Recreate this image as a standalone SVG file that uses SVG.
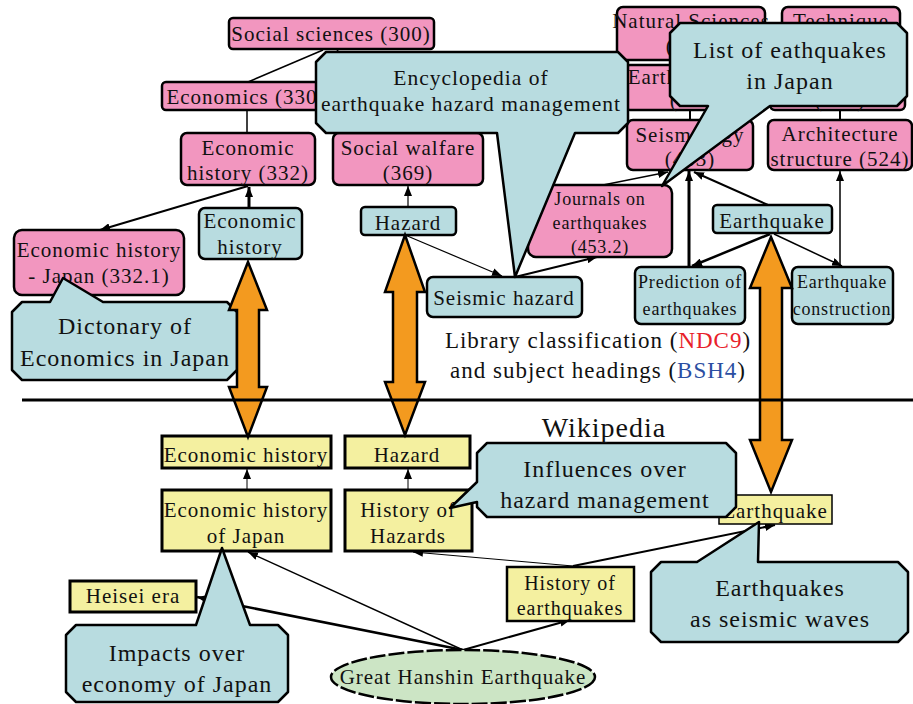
<svg xmlns="http://www.w3.org/2000/svg" width="913" height="704" viewBox="0 0 913 704">
<style>
.t{font-family:"Liberation Serif","Times New Roman",serif;fill:#111;text-anchor:middle}
.n{font-size:21px;letter-spacing:1px}
.s{font-size:18px;letter-spacing:0.8px}
.c{font-size:24px;letter-spacing:1px}
.pink{fill:#F296BF;stroke:#000;stroke-width:2.5}
.blue{fill:#B8DCE0;stroke:#000;stroke-width:2.5}
.yel{fill:#F4F0A0;stroke:#000;stroke-width:3}
.yelt{fill:#F4F0A0;stroke:#000;stroke-width:1.5}
.call{fill:#B8DCE0;stroke:#000;stroke-width:2.5;stroke-linejoin:round}
.oa{fill:#F39A1F;stroke:#000;stroke-width:2.5;stroke-linejoin:miter}
.l{stroke:#000;fill:none}
</style>
<defs>
<marker id="ah" viewBox="0 0 10 8" refX="10" refY="4" markerWidth="10" markerHeight="8" markerUnits="userSpaceOnUse" orient="auto"><path d="M0,0 L10,4 L0,8 z" fill="#000"/></marker>
</defs>
<rect width="913" height="704" fill="#fff"/>

<g id="connectors">
<line class="l" x1="323" y1="50" x2="248" y2="82" stroke-width="1.5"/>
<line class="l" x1="337" y1="50" x2="408" y2="133" stroke-width="1.5"/>
<line class="l" x1="247" y1="110" x2="247" y2="133" stroke-width="1.5"/>
<line class="l" x1="248" y1="186" x2="100" y2="230" stroke-width="2" marker-end="url(#ah)"/>
<line class="l" x1="249" y1="208" x2="249" y2="187" stroke-width="3" marker-end="url(#ah)"/>
<line class="l" x1="408" y1="207" x2="408" y2="186" stroke-width="1.2" marker-end="url(#ah)"/>
<line class="l" x1="405" y1="235" x2="502" y2="276" stroke-width="1.2" marker-end="url(#ah)"/>
<line class="l" x1="515" y1="277" x2="597" y2="257" stroke-width="2" marker-end="url(#ah)"/>
<line class="l" x1="603" y1="185" x2="668" y2="172" stroke-width="1.5" marker-end="url(#ah)"/>
<line class="l" x1="689" y1="267" x2="689" y2="171" stroke-width="3" marker-end="url(#ah)"/>
<line class="l" x1="768" y1="205" x2="694" y2="172" stroke-width="2" marker-end="url(#ah)"/>
<line class="l" x1="770" y1="234" x2="692" y2="266" stroke-width="2.5" marker-end="url(#ah)"/>
<line class="l" x1="774" y1="234" x2="842" y2="266" stroke-width="1.5" marker-end="url(#ah)"/>
<line class="l" x1="840" y1="267" x2="840" y2="171" stroke-width="1.5" marker-end="url(#ah)"/>
<line class="l" x1="690" y1="110" x2="690" y2="120" stroke-width="2"/>
<line class="l" x1="840" y1="110" x2="840" y2="120" stroke-width="2"/>
<line class="l" x1="691" y1="60" x2="691" y2="65" stroke-width="2"/>
<line class="l" x1="841" y1="60" x2="841" y2="65" stroke-width="2"/>
<line class="l" x1="247" y1="490" x2="247" y2="469" stroke-width="1" marker-end="url(#ah)"/>
<line class="l" x1="408" y1="490" x2="408" y2="469" stroke-width="1" marker-end="url(#ah)"/>
<line class="l" x1="573" y1="566" x2="413" y2="552" stroke-width="1" marker-end="url(#ah)"/>
<line class="l" x1="573" y1="566" x2="775" y2="525" stroke-width="2" marker-end="url(#ah)"/>
<line class="l" x1="463" y1="650" x2="248" y2="552" stroke-width="1.5" marker-end="url(#ah)"/>
<line class="l" x1="463" y1="650" x2="197" y2="597" stroke-width="2.5" marker-end="url(#ah)"/>
<line class="l" x1="463" y1="650" x2="570" y2="620" stroke-width="2" marker-end="url(#ah)"/>
</g>

<g id="ndc-social-sciences"><rect class="pink" x="229" y="18" width="205" height="31" rx="4"/><text class="t n" x="331" y="41">Social sciences (300)</text></g>
<g id="ndc-economics"><rect class="pink" x="162" y="82" width="168" height="28" rx="4"/><text class="t n" x="246" y="104">Economics (330)</text></g>
<g id="ndc-economic-history"><rect class="pink" x="181" y="133" width="134" height="52" rx="6"/><text class="t n" x="248" y="155">Economic</text><text class="t n" x="248" y="180">history (332)</text></g>
<g id="ndc-social-walfare"><rect class="pink" x="333" y="133" width="150" height="52" rx="6"/><text class="t n" x="408" y="155">Social walfare</text><text class="t n" x="408" y="180">(369)</text></g>
<g id="ndc-natural-sciences"><rect class="pink" x="617" y="7" width="148" height="53" rx="6"/><text class="t n" x="691" y="28">Natural Sciences</text><text class="t n" x="691" y="53">(400)</text></g>
<g id="ndc-technique"><rect class="pink" x="782" y="7" width="118" height="53" rx="6"/><text class="t n" x="841" y="28">Technique</text><text class="t n" x="841" y="53">(500)</text></g>
<g id="ndc-earth-sciences"><rect class="pink" x="625" y="65" width="140" height="45" rx="5"/><text class="t n" x="695" y="84">Earth sciences</text><text class="t n" x="695" y="107">(450)</text></g>
<g id="ndc-architecture"><rect class="pink" x="770" y="65" width="135" height="45" rx="5"/><text class="t n" x="840" y="84">Architecture</text><text class="t n" x="840" y="107">(520)</text></g>
<g id="ndc-seismology"><rect class="pink" x="627" y="120" width="126" height="50" rx="6"/><text class="t n" x="690" y="142">Seismology</text><text class="t n" x="690" y="166">(453)</text></g>
<g id="ndc-architecture-structure"><rect class="pink" x="768" y="120" width="144" height="50" rx="6"/><text class="t n" x="840" y="141">Architecture</text><text class="t n" x="840" y="166">structure (524)</text></g>
<g id="ndc-journals"><rect class="pink" x="528" y="185" width="144" height="72" rx="8"/><text class="t s" x="600" y="205">Journals on</text><text class="t s" x="600" y="229">earthquakes</text><text class="t s" x="600" y="253">(453.2)</text></g>
<g id="ndc-economic-history-japan"><rect class="pink" x="14" y="230" width="170" height="65" rx="8"/><text class="t n" x="99" y="257">Economic history</text><text class="t n" x="99" y="283">- Japan (332.1)</text></g>

<g id="bsh-economic-history"><rect class="blue" x="199" y="208" width="103" height="51" rx="6"/><text class="t n" x="250" y="228">Economic</text><text class="t n" x="250" y="254">history</text></g>
<g id="bsh-hazard"><rect class="blue" x="361" y="207" width="95" height="28" rx="4"/><text class="t n" x="408" y="230">Hazard</text></g>
<g id="bsh-seismic-hazard"><rect class="blue" x="427" y="277" width="155" height="40" rx="6"/><text class="t n" x="504" y="305">Seismic hazard</text></g>
<g id="bsh-earthquake"><rect class="blue" x="713" y="205" width="119" height="28" rx="4"/><text class="t n" x="772" y="228">Earthquake</text></g>
<g id="bsh-prediction"><rect class="blue" x="635" y="267" width="110" height="57" rx="6"/><text class="t s" x="690" y="288">Prediction of</text><text class="t s" x="690" y="315">earthquakes</text></g>
<g id="bsh-earthquake-construction"><rect class="blue" x="792" y="267" width="101" height="57" rx="6"/><text class="t s" x="842" y="288">Earthquake</text><text class="t s" x="842" y="315">construction</text></g>

<g id="wp-economic-history"><rect class="yel" x="162" y="436" width="169" height="32"/><text class="t n" x="246" y="462">Economic history</text></g>
<g id="wp-hazard"><rect class="yel" x="345" y="436" width="125" height="32"/><text class="t n" x="407" y="462">Hazard</text></g>
<g id="wp-economic-history-japan"><rect class="yel" x="162" y="490" width="169" height="61"/><text class="t n" x="246" y="517">Economic history</text><text class="t n" x="246" y="543">of Japan</text></g>
<g id="wp-history-hazards"><rect class="yel" x="345" y="490" width="127" height="61"/><text class="t n" x="408" y="517">History of</text><text class="t n" x="408" y="543">Hazards</text></g>
<g id="wp-heisei-era"><rect class="yel" x="70" y="581" width="126" height="31"/><text class="t n" x="133" y="603">Heisei era</text></g>
<g id="wp-history-earthquakes"><rect class="yel" x="507" y="567" width="127" height="54" style="stroke-width:2.5"/><text class="t n" x="570" y="590" style="font-size:20px">History of</text><text class="t n" x="570" y="615" style="font-size:20px">earthquakes</text></g>
<g id="wp-earthquake"><rect class="yelt" x="719" y="495" width="113" height="29"/><text class="t n" x="775" y="518">Earthquake</text></g>
<g id="wp-great-hanshin"><ellipse cx="463" cy="677" rx="132" ry="27" fill="#CCE5C5" stroke="#000" stroke-width="2.5" stroke-dasharray="16 3"/><text class="t n" x="463" y="684">Great Hanshin Earthquake</text></g>

<g id="callout-encyclopedia"><path class="call" d="M326,52 H618 L628,62 V123 L618,133 H575 L515,277 L497,133 H326 L316,123 V62 Z"/><text class="t c" x="471" y="85" style="font-size:21.5px">Encyclopedia of</text><text class="t c" x="471" y="111" style="font-size:21.5px">earthquake hazard management</text></g>
<g id="callout-list"><path class="call" d="M680,23 H897 L907,33 V96 L897,106 H770 L662,186 L708,106 H680 L670,96 V33 Z"/><text class="t c" x="790" y="58">List of eathquakes</text><text class="t c" x="790" y="89">in Japan</text></g>
<g id="callout-dictonary"><path class="call" d="M22,302 H50 L63,278 L103,302 H227 L237,312 V370 L227,380 H22 L12,370 V312 Z"/><text class="t c" x="125" y="334">Dictonary of</text><text class="t c" x="125" y="366">Economics in Japan</text></g>
<g id="callout-influences"><path class="call" d="M487,443 H726 L736,453 V507 L726,517 H487 L477,507 V502 L450,508 L477,482 V453 Z"/><text class="t c" x="605" y="477">Influences over</text><text class="t c" x="605" y="508">hazard management</text></g>
<g id="callout-seismic-waves"><path class="call" d="M661,562 H697 L759,522 L758,562 H898 L908,572 V632 L898,642 H661 L651,632 V572 Z"/><text class="t c" x="780" y="596">Earthquakes</text><text class="t c" x="780" y="627">as seismic waves</text></g>
<g id="callout-impacts"><path class="call" d="M76,625 H196 L222,548 L250,625 H278 L288,635 V692 L278,702 H76 L66,692 V635 Z"/><text class="t c" x="177" y="661">Impacts over</text><text class="t c" x="177" y="692">economy of Japan</text></g>

<g id="link-economic-history"><polygon class="oa" points="248,262 267,310 259,310 259,387 267,387 248,437 229,387 237,387 237,310 229,310"/></g>
<g id="link-hazard"><polygon class="oa" points="405,235 425,292 417,292 417,382 425,382 405,435 385,382 393,382 393,292 385,292"/></g>
<g id="link-earthquake"><polygon class="oa" points="771,237 792,288 782,288 782,440 792,440 771,492 750,440 760,440 760,288 750,288"/></g>

<line x1="22" y1="400" x2="913" y2="400" stroke="#000" stroke-width="3"/>
<text class="t" x="598" y="348" style="font-size:23px;letter-spacing:1px">Library classification (<tspan fill="#E8212A">NDC9</tspan>)</text>
<text class="t" x="598" y="378" style="font-size:23px;letter-spacing:1px">and subject headings (<tspan fill="#2B4EA2">BSH4</tspan>)</text>
<text class="t" x="604" y="437" style="font-size:28px;letter-spacing:1px">Wikipedia</text>
</svg>
